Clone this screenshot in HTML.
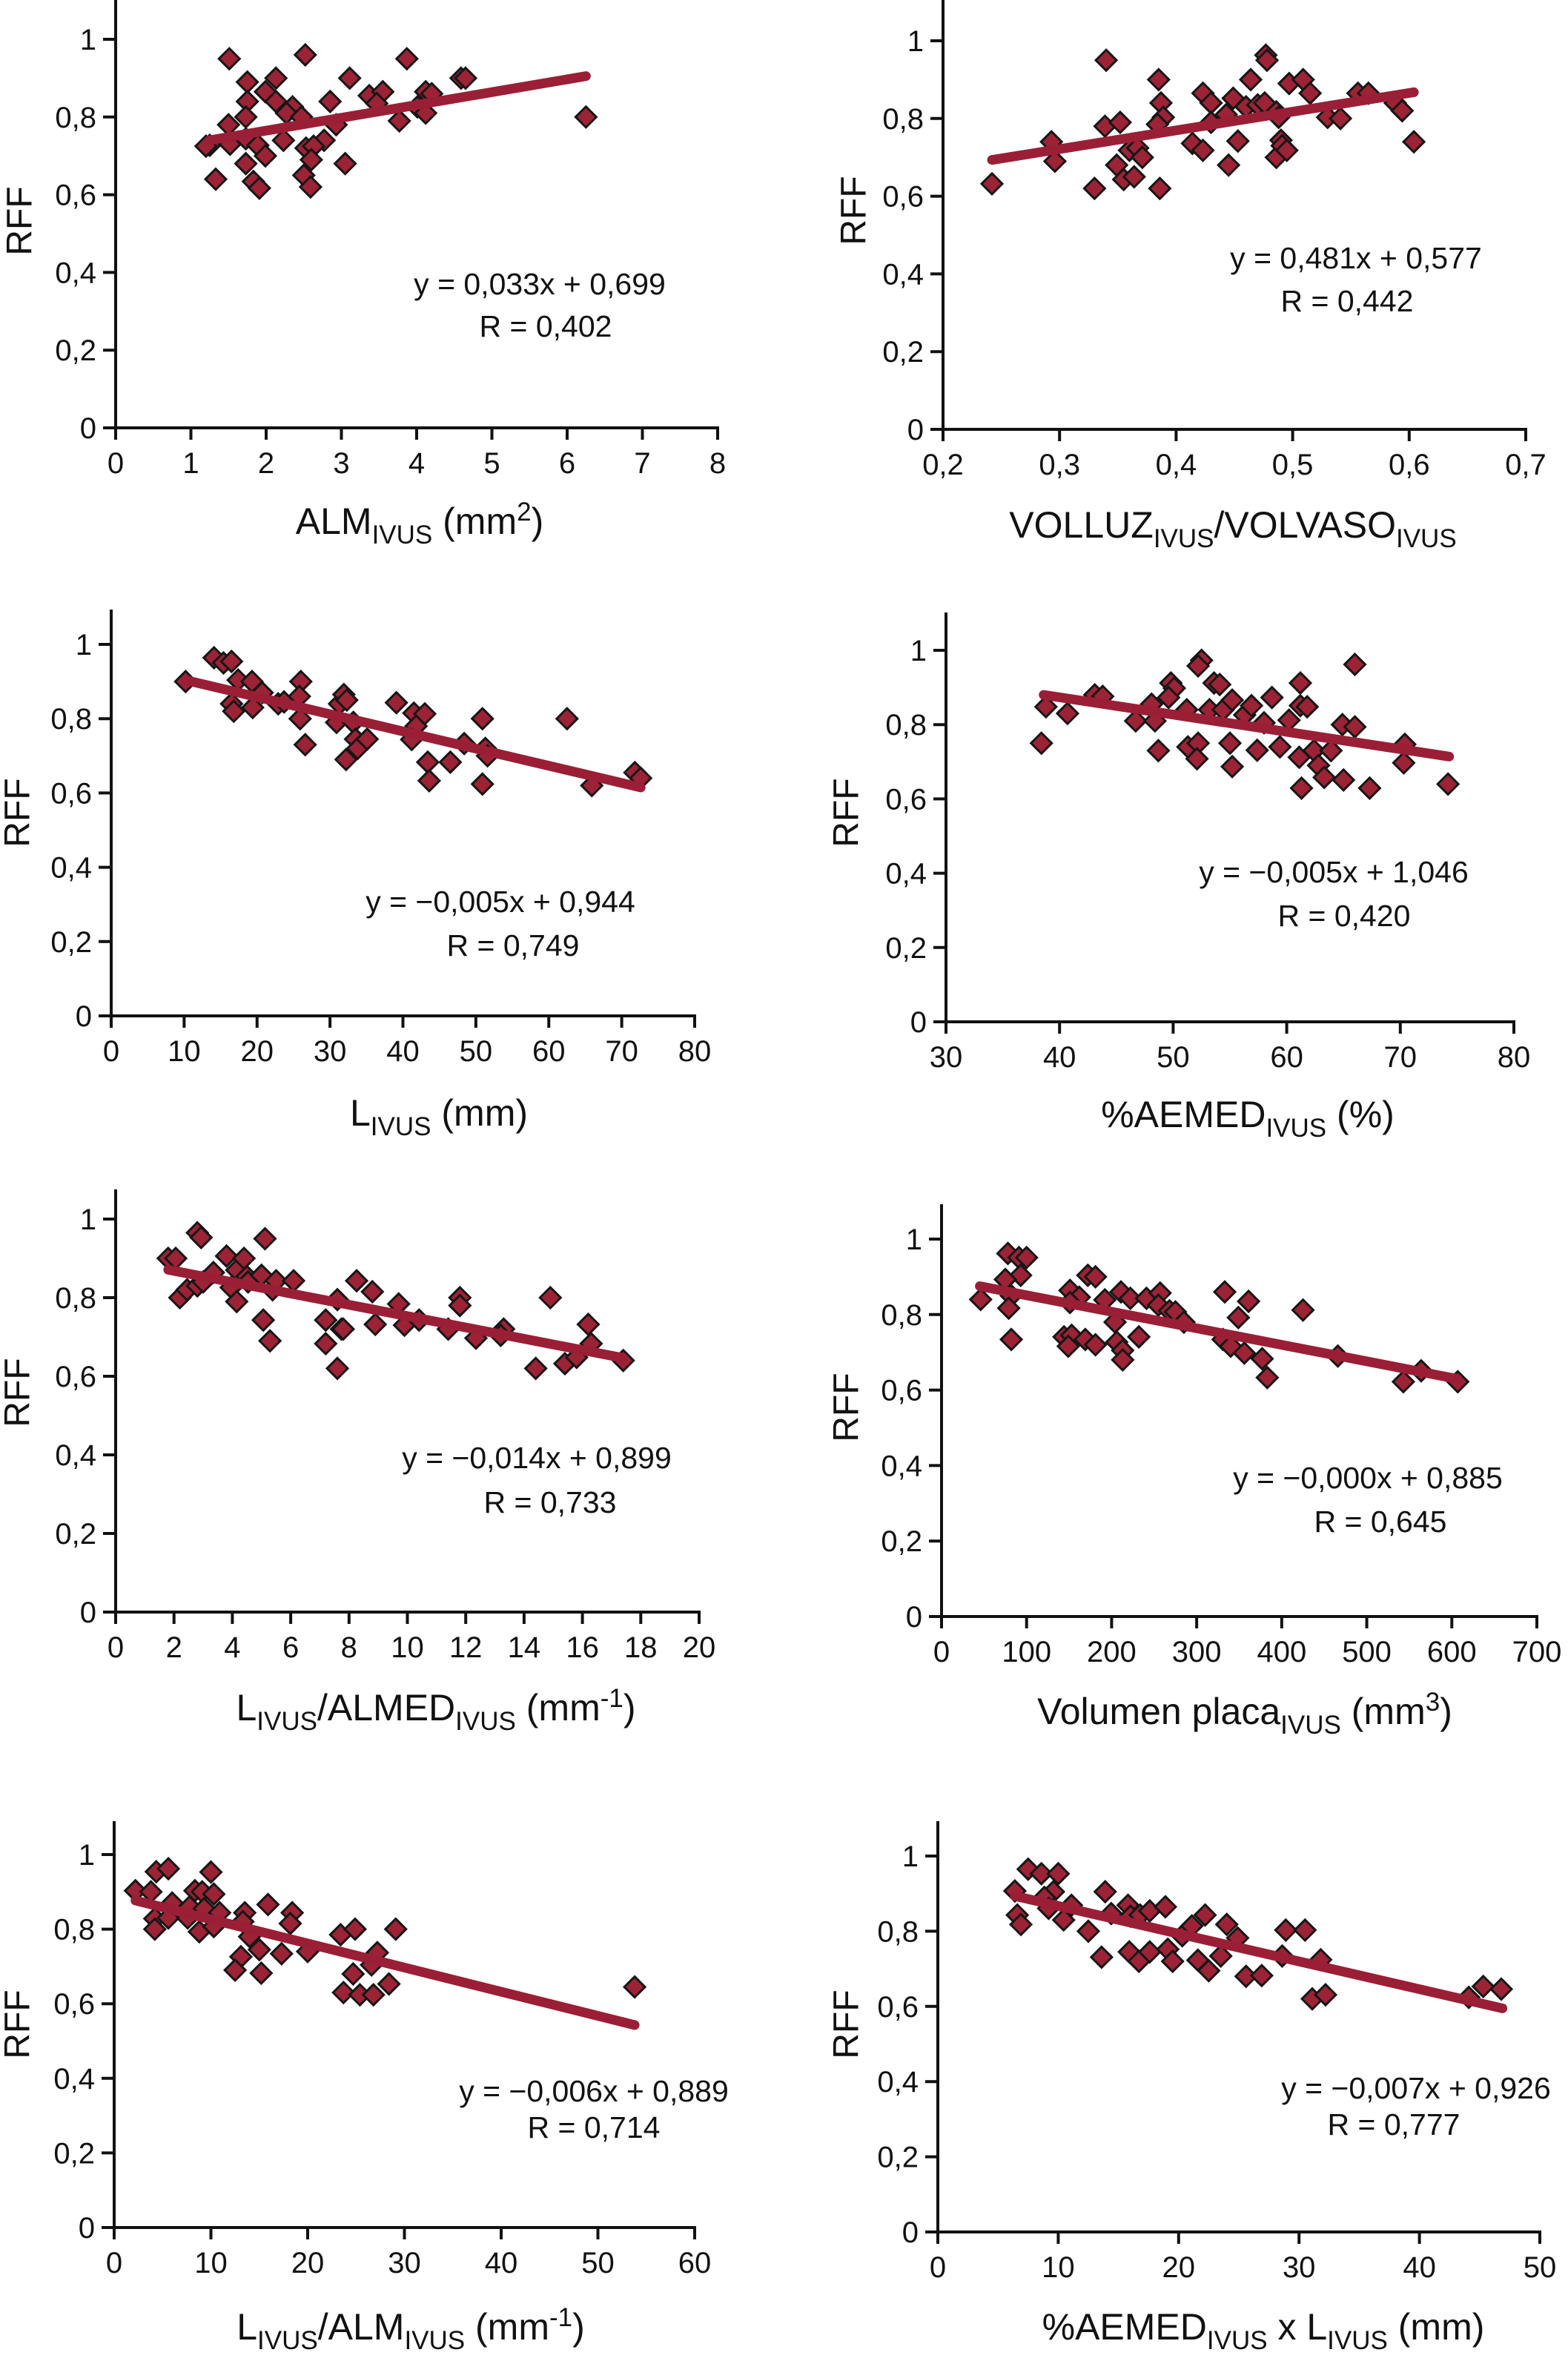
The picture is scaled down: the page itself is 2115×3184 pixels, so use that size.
<!DOCTYPE html>
<html>
<head>
<meta charset="utf-8">
<style>
html,body{margin:0;padding:0;background:#fff;}
svg{display:block;}
text{font-family:"Liberation Sans",Arial,sans-serif;fill:#111;}
</style>
</head>
<body>
<svg id="fig" width="2115" height="3184" viewBox="0 0 2115 3184" xmlns="http://www.w3.org/2000/svg"></svg>
<script>
// ---------- Data ----------
const yTicks = [0, 0.2, 0.4, 0.6, 0.8, 1];
const yTickLabels = ["0", "0,2", "0,4", "0,6", "0,8", "1"];

const p1X = [1.51,2.52,3.87,1.75,2.13,3.11,4.59,4.65,1.99,2.13,1.75,2.35,2.27,2.47,2.85,3.37,3.55,3.47,4.12,4.2,4.01,4.12,3.77,6.25,1.73,1.5,2.93,1.25,1.2,1.52,1.73,1.89,2.23,2.77,2.53,2.63,1.99,1.73,2.6,3.05,1.33,2.5,1.83,1.91,2.59];
const p1Y = [0.95,0.96,0.95,0.89,0.90,0.90,0.90,0.90,0.865,0.84,0.84,0.826,0.81,0.80,0.84,0.855,0.865,0.835,0.865,0.86,0.826,0.81,0.79,0.80,0.80,0.78,0.78,0.727,0.725,0.73,0.744,0.727,0.74,0.74,0.72,0.725,0.70,0.68,0.69,0.68,0.64,0.65,0.634,0.617,0.62];
const p1Fit = [0.033, 0.699]; const p1FitRange = [1.25, 6.25];
const p1XTicks = [0,1,2,3,4,5,6,7,8];
const p1XTickLabels = ["0","1","2","3","4","5","6","7","8"];

const p2X = [0.242,0.293,0.296,0.330,0.340,0.339,0.352,0.349,0.355,0.364,0.36,0.367,0.371,0.385,0.387,0.389,0.384,0.386,0.414,0.423,0.423,0.43,0.43,0.445,0.449,0.443,0.453,0.46,0.464,0.470,0.477,0.478,0.476,0.486,0.488,0.49,0.486,0.491,0.495,0.497,0.509,0.515,0.53,0.541,0.556,0.565,0.588,0.594,0.604];
const p2Y = [0.632,0.74,0.69,0.62,0.95,0.78,0.79,0.68,0.643,0.65,0.718,0.724,0.70,0.90,0.84,0.803,0.785,0.62,0.736,0.718,0.865,0.84,0.79,0.68,0.852,0.81,0.742,0.83,0.90,0.835,0.963,0.95,0.84,0.817,0.803,0.744,0.70,0.73,0.718,0.89,0.90,0.865,0.803,0.80,0.865,0.865,0.84,0.82,0.74];
const p2Fit = [0.481, 0.577]; const p2FitRange = [0.242, 0.604];
const p2XTicks = [0.2,0.3,0.4,0.5,0.6,0.7];
const p2XTickLabels = ["0,2","0,3","0,4","0,5","0,6","0,7"];

const p3X = [10.2,14.1,15.4,16.5,17.4,19.3,16.5,16.8,19.4,20.7,22.9,23.7,26,25.8,25.9,26.6,30.9,31.3,31.9,32.3,33.2,33.5,33.8,35.1,32.2,39.1,41.5,43,41.8,41.2,43.4,43.6,46.5,48.4,50.9,51.3,51.6,50.9,62.5,65.9,71.8,72.6];
const p3Y = [0.90,0.964,0.95,0.954,0.904,0.90,0.84,0.82,0.83,0.87,0.84,0.845,0.90,0.86,0.80,0.73,0.79,0.84,0.865,0.85,0.79,0.745,0.72,0.745,0.69,0.843,0.815,0.813,0.78,0.744,0.683,0.633,0.683,0.733,0.80,0.72,0.70,0.624,0.80,0.62,0.655,0.64];
const p3Fit = [-0.00463, 0.951]; const p3FitRange = [10.2, 72.6];
const p3XTicks = [0,10,20,30,40,50,60,70,80];
const p3XTickLabels = ["0","10","20","30","40","50","60","70","80"];

const p4X = [38.8,38.4,40.7,43.1,43.8,46.7,48.1,48.4,48.7,49.8,50.1,49.6,51.2,51.3,52.2,52.1,52.5,52.2,53.2,53.6,54.1,54.4,55.2,55,55.2,56.3,56.9,57.4,58,58.7,59.4,60.2,61.2,61.2,61.8,61.1,61.3,62.4,62.8,63.3,63.9,64.9,66,66,65,67.3,70.4,70.3,74.2];
const p4Y = [0.848,0.75,0.83,0.88,0.876,0.81,0.855,0.81,0.73,0.912,0.898,0.873,0.84,0.74,0.75,0.708,0.973,0.958,0.84,0.912,0.908,0.84,0.866,0.75,0.687,0.826,0.851,0.731,0.805,0.873,0.74,0.812,0.912,0.851,0.848,0.712,0.629,0.73,0.69,0.658,0.73,0.80,0.794,0.962,0.651,0.629,0.747,0.697,0.64];
const p4Fit = [-0.00465, 1.0595]; const p4FitRange = [38.6, 74.3];
const p4XTicks = [30,40,50,60,70,80];
const p4XTickLabels = ["30","40","50","60","70","80"];

const p5X = [1.8,2.06,2.2,2.45,2.8,2.93,2.8,3.0,3.35,3.8,3.96,4.15,4.15,4.4,4.5,4.54,5,5.12,5.38,5.5,5.06,5.29,6.1,7.2,7.6,7.2,7.6,7.74,7.8,8.26,8.8,8.9,9.7,9.9,10.4,11.4,11.8,11.8,12.35,13.3,13.2,14.4,14.9,15.4,15.8,16.2,16.3,17.4];
const p5Y = [0.90,0.90,0.80,0.82,0.965,0.953,0.83,0.84,0.864,0.906,0.826,0.79,0.87,0.90,0.854,0.84,0.857,0.95,0.82,0.843,0.743,0.69,0.843,0.743,0.795,0.683,0.62,0.72,0.72,0.843,0.815,0.732,0.784,0.73,0.743,0.72,0.80,0.78,0.697,0.72,0.704,0.62,0.80,0.632,0.648,0.732,0.683,0.64];
const p5Fit = [-0.0144, 0.897]; const p5FitRange = [1.8, 17.4];
const p5XTicks = [0,2,4,6,8,10,12,14,16,18,20];
const p5XTickLabels = ["0","2","4","6","8","10","12","14","16","18","20"];

const p6X = [46,78,91,100,93,75,82,79,82,151,162,151,144,153,149,169,181,172,181,192,204,206,213,213,211,222,232,241,257,255,268,275,285,333,361,349,331,340,356,377,383,425,466,543,564,607];
const p6Y = [0.84,0.962,0.951,0.951,0.904,0.893,0.85,0.817,0.734,0.864,0.846,0.832,0.741,0.745,0.716,0.734,0.72,0.904,0.90,0.839,0.78,0.727,0.705,0.68,0.86,0.843,0.741,0.843,0.857,0.825,0.81,0.807,0.78,0.86,0.835,0.792,0.734,0.716,0.698,0.683,0.633,0.812,0.69,0.622,0.651,0.622];
const p6Fit = [-0.000438, 0.895]; const p6FitRange = [45, 607];
const p6XTicks = [0,100,200,300,400,500,600,700];
const p6XTickLabels = ["0","100","200","300","400","500","600","700"];

const p7X = [2.2,3.8,4.35,5.6,4.2,4.2,5.6,6,7.6,7.8,8.35,9.1,8.8,10,10.3,9.3,10.9,10.3,13.5,13.3,14.0,13.1,12.5,15,15.2,15.9,17.3,18.4,18.2,20,23.4,24.9,24.7,23.7,25.4,26.8,26.6,27.2,28.4,29.1,53.8];
const p7Y = [0.903,0.90,0.954,0.962,0.828,0.80,0.83,0.87,0.83,0.86,0.903,0.90,0.793,0.953,0.894,0.855,0.844,0.807,0.844,0.82,0.78,0.726,0.69,0.745,0.682,0.866,0.734,0.844,0.815,0.74,0.785,0.80,0.68,0.63,0.624,0.624,0.704,0.737,0.653,0.80,0.645];
const p7Fit = [-0.00647, 0.891]; const p7FitRange = [2.2, 53.8];
const p7XTicks = [0,10,20,30,40,50,60];
const p7XTickLabels = ["0","10","20","30","40","50","60"];

const p8X = [6.4,6.6,6.9,7.5,8.6,10,9.6,8.85,9.2,11.1,10.45,12.5,13.9,13.6,14.4,15.8,16,15.9,16.7,16.8,17.6,17.6,18.9,19.1,19.5,20.3,21.1,21.6,22.5,22.2,23.5,24,24.9,25.6,26.9,28.6,28.9,30.5,31.8,31.1,32.2,44.1,45.3,46.8];
const p8Y = [0.907,0.843,0.818,0.965,0.953,0.953,0.905,0.89,0.861,0.869,0.83,0.80,0.905,0.731,0.847,0.869,0.84,0.745,0.72,0.843,0.854,0.745,0.865,0.752,0.72,0.788,0.814,0.723,0.695,0.843,0.734,0.818,0.782,0.68,0.682,0.734,0.803,0.803,0.724,0.62,0.631,0.624,0.653,0.646];
const p8Fit = [-0.00738, 0.941]; const p8FitRange = [6.4, 46.9];
const p8XTicks = [0,10,20,30,40,50];
const p8XTickLabels = ["0","10","20","30","40","50"];

// ---------- Layout ----------
const svg = document.getElementById('fig');
const NS = 'http://www.w3.org/2000/svg';
function mk(tag, attrs, parent){
  const e = document.createElementNS(NS, tag);
  for (const k in attrs) e.setAttribute(k, attrs[k]);
  (parent || svg).appendChild(e);
  return e;
}

const panels = [
  {id:'alm', X:p1X, Y:p1Y, fit:p1Fit, fr:p1FitRange, xt:p1XTicks, xl:p1XTickLabels, xmin:0, xmax:8,
   px0:156, px1:968, py0:577, py1:53, top:0,
   eq:"y = 0,033x + 0,699", r:"R = 0,402", eqx:728, eqy:397, rx:736, ry:454,
   title:[["ALM","n"],["IVUS","sub"],[" (mm","n"],["2","sup"],[")","n"]], tx:566, ty:720, rffx:27, rffy:298},
  {id:'volluz', X:p2X, Y:p2Y, fit:p2Fit, fr:p2FitRange, xt:p2XTicks, xl:p2XTickLabels, xmin:0.2, xmax:0.7,
   px0:1272, px1:2058, py0:579, py1:55, top:0,
   eq:"y = 0,481x + 0,577", r:"R = 0,442", eqx:1829, eqy:362, rx:1817, ry:420,
   title:[["VOLLUZ","n"],["IVUS","sub"],["/VOLVASO","n"],["IVUS","sub"]], tx:1663, ty:725, rffx:1152, rffy:284},
  {id:'livus', X:p3X, Y:p3Y, fit:p3Fit, fr:p3FitRange, xt:p3XTicks, xl:p3XTickLabels, xmin:0, xmax:80,
   px0:150, px1:937, py0:1370, py1:869, top:822,
   eq:"y = \u22120,005x + 0,944", r:"R = 0,749", eqx:675, eqy:1230, rx:692, ry:1289,
   title:[["L","n"],["IVUS","sub"],[" (mm)","n"]], tx:592, ty:1518, rffx:24, rffy:1096},
  {id:'aemed', X:p4X, Y:p4Y, fit:p4Fit, fr:p4FitRange, xt:p4XTicks, xl:p4XTickLabels, xmin:30, xmax:80,
   px0:1276, px1:2042, py0:1378, py1:877, top:826,
   eq:"y = \u22120,005x + 1,046", r:"R = 0,420", eqx:1799, eqy:1190, rx:1813, ry:1249,
   title:[["%AEMED","n"],["IVUS","sub"],[" (%)","n"]], tx:1683, ty:1520, rffx:1142, rffy:1096},
  {id:'l-almed', X:p5X, Y:p5Y, fit:p5Fit, fr:p5FitRange, xt:p5XTicks, xl:p5XTickLabels, xmin:0, xmax:20,
   px0:156, px1:943, py0:2174, py1:1644, top:1604,
   eq:"y  = \u22120,014x + 0,899", r:"R = 0,733", eqx:724, eqy:1980, rx:742, ry:2040,
   title:[["L","n"],["IVUS","sub"],["/ALMED","n"],["IVUS","sub"],[" (mm","n"],["-1","sup"],[")","n"]], tx:588, ty:2320, rffx:24, rffy:1878},
  {id:'volumen', X:p6X, Y:p6Y, fit:p6Fit, fr:p6FitRange, xt:p6XTicks, xl:p6XTickLabels, xmin:0, xmax:700,
   px0:1270, px1:2073, py0:2180, py1:1671, top:1624,
   eq:"y = \u22120,000x +  0,885", r:"R = 0,645", eqx:1845, eqy:2007, rx:1862, ry:2066,
   title:[["Volumen placa","n"],["IVUS","sub"],[" (mm","n"],["3","sup"],[")","n"]], tx:1679, ty:2325, rffx:1142, rffy:1898},
  {id:'l-alm', X:p7X, Y:p7Y, fit:p7Fit, fr:p7FitRange, xt:p7XTicks, xl:p7XTickLabels, xmin:0, xmax:60,
   px0:154, px1:937, py0:3004, py1:2501, top:2456,
   eq:"y = \u22120,006x + 0,889", r:"R = 0,714", eqx:801, eqy:2834, rx:801, ry:2883,
   title:[["L","n"],["IVUS","sub"],["/ALM","n"],["IVUS","sub"],[" (mm","n"],["-1","sup"],[")","n"]], tx:554, ty:3155, rffx:24, rffy:2730},
  {id:'aemed-l', X:p8X, Y:p8Y, fit:p8Fit, fr:p8FitRange, xt:p8XTicks, xl:p8XTickLabels, xmin:0, xmax:50,
   px0:1265, px1:2077, py0:3010, py1:2503, top:2456,
   eq:"y = \u22120,007x +  0,926", r:"R = 0,777", eqx:1910, eqy:2830, rx:1880, ry:2879,
   title:[["%AEMED","n"],["IVUS","sub"],[" x L","n"],["IVUS","sub"],[" (mm)","n"]], tx:1704, ty:3155, rffx:1142, rffy:2730}
];

panels.forEach(function(p){
  const g = mk('g', {});
  
  
  const xs = v => p.px0 + (v - p.xmin) / (p.xmax - p.xmin) * (p.px1 - p.px0);
  const ys = v => p.py0 - v * (p.py0 - p.py1);

  const ya = mk('line', {x1:p.px0, y1:p.top, x2:p.px0, y2:p.py0+2, stroke:'#111', 'stroke-width':4}, g);
  
  
  const xa = mk('line', {x1:p.px0-2, y1:p.py0, x2:p.px1+2, y2:p.py0, stroke:'#111', 'stroke-width':4}, g);
  
  

  yTicks.forEach(function(t, i){
    const y = ys(t);
    const tk = mk('line', {x1:p.px0-17, y1:y, x2:p.px0, y2:y, stroke:'#111', 'stroke-width':4}, g);
    
    
    const tl = mk('text', {x:p.px0-26, y:y+14, 'text-anchor':'end', 'font-size':40}, g);
    tl.textContent = yTickLabels[i];
    
    
  });
  p.xt.forEach(function(t, i){
    const x = xs(t);
    const tk = mk('line', {x1:x, y1:p.py0, x2:x, y2:p.py0+16, stroke:'#111', 'stroke-width':4}, g);
    
    
    const tl = mk('text', {x:x, y:p.py0+61, 'text-anchor':'middle', 'font-size':40}, g);
    tl.textContent = p.xl[i];
    
    
  });

  p.X.forEach(function(xv, i){
    const cx = xs(xv), cy = ys(p.Y[i]), h = 14;
    const d = mk('polygon', {points:(cx)+','+(cy-h)+' '+(cx+h)+','+cy+' '+cx+','+(cy+h)+' '+(cx-h)+','+cy,
      fill:'#9b2335', stroke:'#161616', 'stroke-width':3, 'stroke-linejoin':'miter'}, g);
    
    
  });

  const xA = p.fr[0], xB = p.fr[1];
  const ln = mk('line', {x1:xs(xA), y1:ys(p.fit[0]*xA + p.fit[1]), x2:xs(xB), y2:ys(p.fit[0]*xB + p.fit[1]),
    stroke:'#9a1f36', 'stroke-width':13, 'stroke-linecap':'round'}, g);
  
  

  const eq = mk('text', {x:p.eqx, y:p.eqy, 'text-anchor':'middle', 'font-size':41}, g);
  eq.textContent = p.eq;
  
  
  const rt = mk('text', {x:p.rx, y:p.ry, 'text-anchor':'middle', 'font-size':41}, g);
  rt.textContent = p.r;
  
  

  const yt = mk('text', {x:p.rffx, y:p.rffy, 'text-anchor':'middle', 'dominant-baseline':'central', 'font-size':48,
    transform:'rotate(-90 '+p.rffx+' '+p.rffy+')'}, g);
  yt.textContent = 'RFF';
  
  

  const xt = mk('text', {x:p.tx, y:p.ty, 'text-anchor':'middle', 'font-size':50}, g);
  
  
  let shift = 0;
  p.title.forEach(function(part){
    const ts = document.createElementNS(NS, 'tspan');
    let target = 0, fs = 50;
    if (part[1] === 'sub') { target = 13; fs = 35; }
    else if (part[1] === 'sup') { target = -18; fs = 35; }
    ts.setAttribute('dy', target - shift);
    ts.setAttribute('font-size', fs);
    shift = target;
    ts.textContent = part[0];
    xt.appendChild(ts);
  });
});
</script>
</body>
</html>
